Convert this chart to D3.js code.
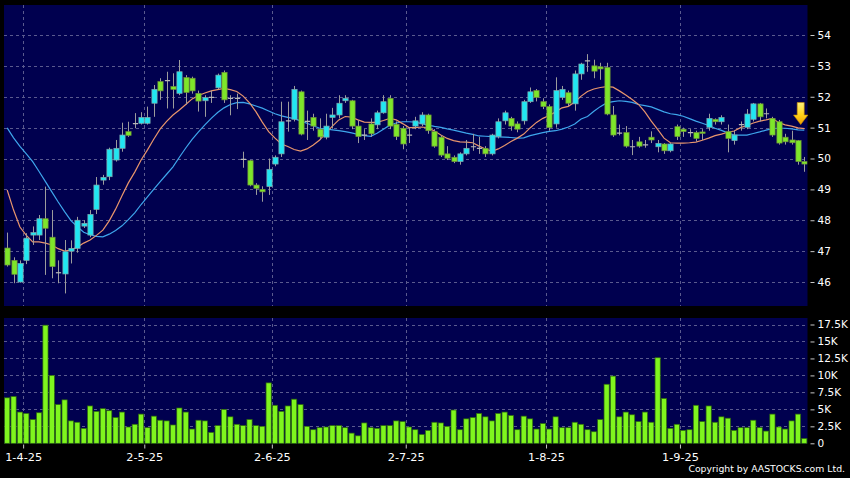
<!DOCTYPE html>
<html><head><meta charset="utf-8">
<script src="https://cdn.jsdelivr.net/npm/d3@7"></script>
<style>html,body{margin:0;padding:0;background:#000;}svg{display:block;}</style>
</head><body><svg id="c" width="850" height="478"></svg>
<script>
// ---- DATA ----
const open=[47.1,46.7,46.0,46.7,47.52,47.52,48.05,47.45,46.3,46.26,
47.0,47.09,47.81,47.52,48.35,49.3,49.41,49.95,50.33,50.87,
51.13,51.14,51.14,51.79,52.49,52.52,52.33,52.11,52.62,52.6,
52.11,51.87,51.98,52.29,52.79,51.95,51.95,49.97,49.93,49.14,
49.0,49.09,49.82,50.15,51.22,51.27,52.16,51.2,51.33,50.95,
50.69,51.33,51.41,51.87,51.87,51.05,50.76,51.12,51.09,51.48,
51.95,51.11,50.98,50.76,51.05,51.12,51.41,50.87,50.69,50.15,
50.04,49.9,50.15,50.38,50.33,50.33,50.15,50.71,51.22,51.3,
51.12,51.22,51.84,52.2,51.84,51.68,51.12,51.98,52.13,51.77,
52.74,53.16,53.0,52.97,52.95,51.41,50.82,50.84,50.38,50.54,
50.44,50.69,50.38,50.47,50.25,51.03,50.95,50.84,50.84,50.86,
51.01,51.27,51.19,50.87,50.58,51.1,51.01,51.27,51.77,51.45,
51.3,51.19,50.69,50.6,50.58,49.9];
const close=[46.55,46.25,46.6,47.42,47.6,48.05,47.74,46.5,46.3,46.98,
47.09,48.0,47.9,48.19,49.14,49.39,50.3,50.33,50.76,50.75,
51.13,51.33,51.33,52.24,52.19,52.52,52.24,52.81,52.14,52.19,
51.86,51.97,51.98,52.7,51.9,51.95,51.95,49.97,49.14,49.03,
48.92,49.65,50.04,51.19,51.22,52.24,50.79,51.2,51.05,50.7,
51.05,51.41,51.79,51.95,51.05,50.71,50.76,50.8,51.48,51.84,
51.05,50.71,50.47,50.76,51.22,51.41,50.9,50.4,50.11,50.01,
49.9,50.15,50.33,50.38,50.33,50.15,50.76,51.19,51.48,51.05,
50.95,51.84,52.16,51.98,51.68,51.0,52.2,52.24,51.79,52.74,
53.06,53.16,52.83,52.9,51.44,50.76,50.82,50.4,50.38,50.4,
50.44,50.6,50.49,50.25,50.47,50.71,50.87,50.84,50.65,50.82,
51.3,51.19,51.33,50.65,50.76,51.1,51.44,51.77,51.35,51.45,
50.76,50.5,50.54,50.51,49.9,49.82];
const high=[47.6,46.8,46.7,47.58,47.8,48.17,49.09,48.33,46.7,47.36,
47.35,48.11,48.0,48.33,49.4,49.47,50.35,50.6,51.16,51.19,
51.47,51.5,51.68,52.38,52.6,52.81,52.76,53.19,52.7,52.65,
52.2,52.05,52.2,52.75,52.85,52.05,52.1,50.22,49.95,49.2,
49.1,50.0,50.1,51.84,51.84,52.35,52.2,51.55,51.45,51.3,
51.45,51.64,52.05,52.05,51.9,51.25,50.95,51.3,51.55,52.05,
52.05,51.2,51.05,51.0,51.35,51.5,51.45,50.95,50.75,50.4,
50.1,50.2,50.6,50.8,50.7,50.4,50.8,51.3,51.55,51.35,
51.2,51.9,52.3,52.25,51.95,51.75,52.63,52.35,52.2,52.85,
53.1,53.38,53.2,53.1,53.1,51.7,51.1,51.05,50.6,50.7,
50.6,50.88,50.6,50.5,50.5,51.1,51.0,50.95,50.9,50.95,
51.45,51.3,51.4,51.1,50.9,51.2,51.6,51.8,51.8,51.62,
51.35,51.25,50.8,50.9,50.6,50.05];
const low=[46.5,45.96,45.98,46.58,47.2,47.36,46.23,46.12,45.96,45.63,
46.6,46.95,47.75,47.45,48.2,49.15,49.3,49.9,50.22,50.7,
50.98,51.1,51.1,51.35,51.9,51.62,51.62,52.05,51.75,52.1,
51.52,51.35,51.8,52.25,51.8,51.4,51.6,49.7,49.1,48.82,
48.6,48.82,49.75,50.05,50.87,51.2,50.75,50.6,50.9,50.6,
50.62,50.97,51.3,51.8,50.95,50.5,50.6,50.7,50.95,51.45,
50.95,50.6,50.3,50.5,50.95,51.05,50.8,50.35,50.05,49.95,
49.85,49.8,50.1,50.25,50.15,50.05,50.1,50.65,51.1,50.9,
50.85,51.1,51.8,51.85,51.6,50.9,51.0,51.9,51.7,51.55,
52.55,52.81,52.6,52.55,51.4,50.7,50.75,50.35,50.11,50.35,
50.35,50.5,50.2,50.15,50.2,50.6,50.7,50.7,50.55,50.6,
50.9,51.1,51.1,50.2,50.45,50.9,50.95,51.2,51.2,51.3,
50.7,50.45,50.45,50.45,49.8,49.57];
// volume in thousands
const volume=[6.7,6.9,4.6,4.4,3.5,4.5,17.4,10.0,5.7,6.4,
3.3,3.1,2.2,5.5,4.7,5.1,4.8,3.8,4.6,2.4,
2.8,4.3,2.3,4.0,3.4,3.3,2.7,5.2,4.6,2.1,
3.4,3.3,1.6,2.6,5.0,3.9,2.8,2.6,3.5,2.6,
2.5,8.9,5.6,4.7,5.5,6.5,5.7,2.5,2.0,2.3,
2.4,2.6,2.6,2.3,1.5,1.1,3.0,2.3,2.2,2.6,
2.6,3.3,3.2,2.4,2.0,1.3,1.9,3.1,3.0,2.5,
4.9,2.0,3.6,3.8,4.4,3.9,3.3,4.4,4.6,4.1,
2.0,4.0,3.6,2.1,2.9,2.1,3.9,2.3,2.3,3.1,
2.8,2.0,1.7,3.5,8.7,9.9,3.9,4.6,4.2,3.2,
4.6,3.1,12.6,6.6,2.2,2.8,1.9,2.0,5.6,3.2,
5.5,3.1,3.9,3.7,1.9,2.3,2.3,3.4,2.3,1.8,
4.3,2.4,2.1,3.3,4.3,0.7];
// short moving average (orange) and long moving average (blue)
const maShort=[48.98,48.33,47.78,47.51,47.30,47.30,47.26,47.20,47.08,47.00,
47.04,47.13,47.26,47.36,47.51,47.68,47.98,48.36,48.79,49.21,
49.56,49.95,50.28,50.63,50.96,51.20,51.41,51.57,51.75,51.93,
52.04,52.12,52.19,52.23,52.27,52.23,52.17,52.02,51.80,51.52,
51.18,50.87,50.66,50.47,50.39,50.29,50.24,50.31,50.44,50.60,
50.83,51.05,51.25,51.36,51.34,51.25,51.18,51.17,51.17,51.23,
51.30,51.25,51.13,51.00,51.00,51.02,50.99,50.89,50.76,50.65,
50.58,50.54,50.53,50.51,50.40,50.31,50.23,50.31,50.42,50.55,
50.66,50.79,50.99,51.17,51.30,51.39,51.51,51.64,51.69,51.83,
52.02,52.17,52.25,52.30,52.33,52.31,52.19,52.06,51.91,51.75,
51.51,51.21,50.94,50.66,50.51,50.50,50.50,50.51,50.53,50.59,
50.66,50.74,50.79,50.85,50.89,51.00,51.07,51.15,51.21,51.25,
51.30,51.16,51.09,51.05,50.99,50.97];
const maLong=[50.99,50.67,50.39,50.15,49.90,49.58,49.25,48.92,48.59,48.28,
47.99,47.79,47.61,47.53,47.48,47.46,47.55,47.67,47.82,48.02,
48.24,48.51,48.76,49.01,49.25,49.49,49.73,50.04,50.34,50.62,
50.86,51.09,51.30,51.49,51.64,51.75,51.81,51.82,51.77,51.70,
51.63,51.54,51.45,51.38,51.33,51.29,51.22,51.14,51.06,50.98,
50.96,50.93,50.90,50.87,50.83,50.78,50.74,50.72,50.82,50.95,
51.08,51.15,51.19,51.19,51.18,51.13,51.08,51.04,51.01,50.96,
50.92,50.87,50.82,50.78,50.73,50.72,50.71,50.70,50.69,50.68,
50.66,50.67,50.74,50.79,50.84,50.88,50.90,50.95,51.02,51.12,
51.28,51.36,51.53,51.68,51.80,51.84,51.87,51.85,51.82,51.75,
51.71,51.67,51.59,51.51,51.45,51.42,51.37,51.29,51.21,51.14,
51.07,50.98,50.91,50.83,50.76,50.76,50.76,50.81,50.86,50.92,
50.97,50.98,50.98,50.96,50.93,50.92];
const dateTickIndex=[2,21,41,62,84,105];
const dateTickLabels=["1-4-25","2-5-25","2-6-25","2-7-25","1-8-25","1-9-25"];
const priceTicks=[46,47,48,49,50,51,52,53,54];
const volTicks=[0,2.5,5,7.5,10,12.5,15,17.5];
const volTickLabels=["0","2.5K","5K","7.5K","10K","12.5K","15K","17.5K"];

// ---- LAYOUT ----
const N=close.length;
const W=850,H=478;
const L=4,R=807.5,pTop=5,pBot=306,vTop=318,vBot=443.5;
const svg=d3.select('#c');
svg.append('rect').attr('width',W).attr('height',H).attr('fill','#000');

const x=d3.scaleBand().domain(d3.range(N)).range([L,R]).padding(0);
const bw=x.bandwidth();
const cx=i=>x(i)+bw/2;
const gx=i=>x(i)+bw; // grid position for a date index
const yP=d3.scaleLinear().domain([46,54]).range([282,35]);
const yV=d3.scaleLinear().domain([0,17.5]).range([443.3,324.5]);

const defs=svg.append('defs');
defs.append('clipPath').attr('id','pclip').append('rect')
  .attr('x',L).attr('y',pTop).attr('width',R-L).attr('height',pBot-pTop);
const grad=defs.append('linearGradient').attr('id','arrowGrad').attr('x1',0).attr('y1',0).attr('x2',0).attr('y2',1);
grad.append('stop').attr('offset','0%').attr('stop-color','#fff27a');
grad.append('stop').attr('offset','55%').attr('stop-color','#ffd21a');
grad.append('stop').attr('offset','100%').attr('stop-color','#f0a000');

// panels
svg.append('rect').attr('x',L).attr('y',pTop).attr('width',R-L).attr('height',pBot-pTop).attr('fill','#00004f');
svg.append('rect').attr('x',L).attr('y',vTop).attr('width',R-L).attr('height',vBot-vTop).attr('fill','#00004f');

const gridColor='#5a5a8e';
const grid=svg.append('g').attr('stroke',gridColor).attr('stroke-width',1).attr('stroke-dasharray','3,3').attr('fill','none');
priceTicks.forEach(v=>{
  const yy=Math.round(yP(v))+0.5;
  grid.append('line').attr('x1',L).attr('x2',R).attr('y1',yy).attr('y2',yy);
});
volTicks.filter(v=>v>0).forEach(v=>{
  const yy=Math.round(yV(v))+0.5;
  grid.append('line').attr('x1',L).attr('x2',R).attr('y1',yy).attr('y2',yy);
});
dateTickIndex.forEach(i=>{
  const xx=Math.round(gx(i))+0.5;
  grid.append('line').attr('x1',xx).attr('x2',xx).attr('y1',pTop).attr('y2',pBot);
  grid.append('line').attr('x1',xx).attr('x2',xx).attr('y1',vTop).attr('y2',vBot);
});

// ---- PRICE PANEL ----
const pg=svg.append('g').attr('clip-path','url(#pclip)');
const idx=d3.range(N);
const lineShort=d3.line().x(i=>cx(i)).y(i=>yP(maShort[i]));
const lineLong=d3.line().x(i=>cx(i)).y(i=>yP(maLong[i]));
pg.append('path').attr('d',lineLong(idx)).attr('fill','none').attr('stroke','#3ea6ec').attr('stroke-width',1.2);
pg.append('path').attr('d',lineShort(idx)).attr('fill','none').attr('stroke','#e8956c').attr('stroke-width',1.2);

const cg=pg.append('g');
const bodyW=bw*0.82;
idx.forEach(i=>{
  const o=open[i],c=close[i];
  const xc=Math.round(cx(i))+0.5;
  cg.append('line').attr('x1',xc).attr('x2',xc).attr('y1',yP(high[i])).attr('y2',yP(low[i]))
    .attr('stroke','#9c9c9c').attr('stroke-width',1);
  if(o===c){
    cg.append('line').attr('x1',xc-bodyW/2).attr('x2',xc+bodyW/2).attr('y1',yP(o)).attr('y2',yP(o))
      .attr('stroke','#b8b8b8').attr('stroke-width',1.2);
  } else {
    const top=yP(Math.max(o,c)),bot=yP(Math.min(o,c));
    cg.append('rect').attr('x',xc-bodyW/2).attr('y',top).attr('width',bodyW).attr('height',Math.max(1.5,bot-top))
      .attr('fill',c>o?'#20e6f2':'#7ee62a')
      .attr('stroke',c>o?'#7fa6aa':'#6f8f3a').attr('stroke-width',0.7);
  }
});

// arrow marker at last point
const ax=cx(N-1)-3.6, ay=yP(maShort[N-1])-4;
svg.append('path')
  .attr('d',`M${ax-3.5},${ay-22} L${ax+3.5},${ay-22} L${ax+3.5},${ay-9.5} L${ax+7.2},${ay-9.5} L${ax},${ay} L${ax-7.2},${ay-9.5} L${ax-3.5},${ay-9.5} Z`)
  .attr('fill','url(#arrowGrad)').attr('stroke','#c98a00').attr('stroke-width',0.6);

// ---- VOLUME PANEL ----
const vg=svg.append('g');
idx.forEach(i=>{
  vg.append('rect').attr('x',x(i)+0.6).attr('y',yV(volume[i])).attr('width',bw-1.2)
    .attr('height',yV(0)-yV(volume[i]))
    .attr('fill','#7ff51e').attr('stroke','#2e6a0c').attr('stroke-width',0.7);
});

// ---- AXES ----
const font="'DejaVu Sans', Verdana, sans-serif";
const pAxis=svg.append('g').attr('transform','translate(810.5,0)')
  .call(d3.axisRight(yP).tickValues(priceTicks).tickSize(4).tickPadding(3).tickFormat(d3.format('d')));
const vAxis=svg.append('g').attr('transform','translate(810.5,0)')
  .call(d3.axisRight(yV).tickValues(volTicks).tickSize(4).tickPadding(3).tickFormat((d,k)=>volTickLabels[k]));
const dScale=d3.scaleLinear().domain([0,N]).range([L,R]);
const dAxis=svg.append('g').attr('transform','translate(0,444.5)')
  .call(d3.axisBottom(dScale).tickValues(dateTickIndex.map(i=>i+1)).tickSize(4).tickPadding(4)
    .tickFormat((d,k)=>dateTickLabels[k]));
[pAxis,vAxis,dAxis].forEach(g=>{
  g.select('.domain').remove();
  g.selectAll('.tick line').attr('stroke','#c8c8c8');
  g.selectAll('.tick text').attr('fill','#ffffff').style('font-family',font);
});
pAxis.selectAll('.tick text').style('font-size','10.5px');
vAxis.selectAll('.tick text').style('font-size','10.5px');
dAxis.selectAll('.tick text').style('font-size','11.3px');

svg.append('text').attr('x',845).attr('y',472).attr('text-anchor','end')
  .attr('fill','#ffffff').style('font-family',font).style('font-size','9.3px')
  .text('Copyright by AASTOCKS.com Ltd.');
</script></body></html>
